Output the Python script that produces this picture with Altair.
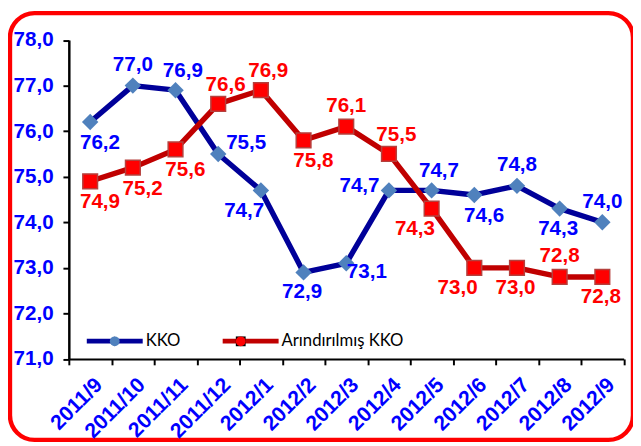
import altair as alt
import pandas as pd

# ---- data ----
months = ["2011/9", "2011/10", "2011/11", "2011/12", "2012/1", "2012/2", "2012/3",
          "2012/4", "2012/5", "2012/6", "2012/7", "2012/8", "2012/9"]
kko = [76.2, 77.0, 76.9, 75.5, 74.7, 72.9, 73.1, 74.7, 74.7, 74.6, 74.8, 74.3, 74.0]
arindirilmis = [74.9, 75.2, 75.6, 76.6, 76.9, 75.8, 76.1, 75.5, 74.3, 73.0, 73.0, 72.8, 72.8]
series_names = ["KKO", "Arındırılmış KKO"]
y_ticks = [71, 72, 73, 74, 75, 76, 77, 78]

# ---- label placement (style only) ----
kko_place = ["below", "above", "aboveright", "right", "belowleft", "belowc", "rightbelow",
             "left", "aboveright", "below", "above", "belowc", "above"]
arind_place = ["below", "below", "below", "aboveright", "aboveright", "below", "above",
               "aboveright", "belowleft", "belowleft", "belowc", "above", "belowc"]
offsets = {
    "below": (10, 21.5),
    "belowc": (-1.5, 20.6),
    "above": (0, -21),
    "aboveright": (7.5, -19.5),
    "right": (28.5, -11),
    "belowleft": (-17, 21),
    "rightbelow": (21, 9),
    "left": (-30, -4),
}

rows = []
for i, m in enumerate(months):
    rows.append(dict(month=m, idx=i, series=series_names[0], value=kko[i], place=kko_place[i]))
    rows.append(dict(month=m, idx=i, series=series_names[1], value=arindirilmis[i], place=arind_place[i]))
df = pd.DataFrame(rows)
df["series2"] = df["series"]

FONT = "Liberation Sans"
BLUE = "#0000FF"
RED = "#FF0000"

x_enc = alt.X(
    "month:N", sort=months,
    scale=alt.Scale(type="band", range=[60, 625.5], paddingInner=0, paddingOuter=0),
    axis=alt.Axis(
        title=None, orient="bottom", offset=-82.5, tickBand="extent",
        labelAngle=-45, labelAlign="right", labelBaseline="middle",
        labelFont=FONT, labelFontSize=21.5, labelFontWeight="bold", labelColor=BLUE,
        labelPadding=17, labelOffset=9, labelOverlap=False, labelFlush=False,
        domainColor="black", domainWidth=2, tickColor="black", tickWidth=2, tickSize=6,
        grid=False,
    ),
)
y_enc = alt.Y(
    "value:Q",
    scale=alt.Scale(domain=[71, 78], range=[352.5, 27.5], nice=False, zero=False),
    axis=alt.Axis(
        title=None, orient="left", offset=-60, values=y_ticks,
        labelExpr="replace(format(datum.value, '.1f'), '.', ',')",
        labelFont=FONT, labelFontSize=21, labelFontWeight="bold", labelColor=BLUE,
        labelPadding=10, domainColor="black", domainWidth=2.5,
        tickColor="black", tickWidth=2, tickSize=6, grid=False,
    ),
)

base = alt.Chart(df)

lines = base.mark_line(strokeWidth=5.5, strokeJoin="round", strokeCap="round").encode(
    x=x_enc, y=y_enc,
    stroke=alt.Stroke(
        "series:N",
        scale=alt.Scale(domain=series_names, range=["#000099", "#C00000"]),
        legend=alt.Legend(
            title=None, orient="none", legendX=75.8, legendY=303.3, direction="horizontal",
            symbolType="stroke", symbolSize=3249, symbolStrokeWidth=5,
            labelFont="Lato", labelFontSize=17, labelColor="black", labelOffset=0.5,
            columnPadding=32.5, padding=0,
        ),
    ),
    order=alt.Order("idx:Q"),
)

fill_scale = alt.Scale(range=["#4F81BD", "#FF0000"])
shape_scale = alt.Scale(range=["diamond", "square"])
legend2 = alt.Legend(
    title=None, orient="none", legendX=98.3, legendY=325.8, direction="horizontal",
    symbolSize=100, symbolStrokeWidth=0, labelFont="Lato", labelFontSize=17,
    labelExpr="''", labelOpacity=0, labelOffset=0, columnPadding=111.4, padding=0,
)

pts_kko = base.transform_filter(alt.datum.series == series_names[0]).mark_point(
    filled=True, size=280, strokeWidth=0, opacity=1
).encode(
    x=x_enc, y=y_enc,
    fill=alt.Fill("series2:N", sort=series_names, scale=fill_scale, legend=legend2),
    shape=alt.Shape("series2:N", sort=series_names, scale=shape_scale, legend=legend2),
)
pts_ar = base.transform_filter(alt.datum.series == series_names[1]).mark_point(
    filled=True, size=225, stroke="#B5403D", strokeWidth=1.5, opacity=1
).encode(
    x=x_enc, y=y_enc,
    fill=alt.Fill("series2:N", sort=series_names, scale=fill_scale, legend=legend2),
    shape=alt.Shape("series2:N", sort=series_names, scale=shape_scale, legend=legend2),
)

label_layers = []
for place, (dx, dy) in offsets.items():
    label_layers.append(
        base.transform_filter(alt.datum.place == place)
        .transform_calculate(label="replace(format(datum.value, '.1f'), '.', ',')")
        .mark_text(font=FONT, fontSize=21, fontWeight="bold", dx=dx, dy=dy,
                   align="center", baseline="middle")
        .encode(
            x=x_enc, y=y_enc, text="label:N",
            color=alt.Color("series:N", scale=alt.Scale(domain=series_names, range=[BLUE, RED]),
                            legend=None),
        )
    )

chart = alt.layer(lines, pts_kko, pts_ar, *label_layers).properties(
    width=635, height=435, autosize="none",
    padding={"left": 2, "top": 1, "right": 0, "bottom": 0},
).configure_view(
    stroke="#FF0000", strokeWidth=4.5, cornerRadius=25
)

chart.save("out.html", embed_options={"renderer": "svg", "actions": False})
